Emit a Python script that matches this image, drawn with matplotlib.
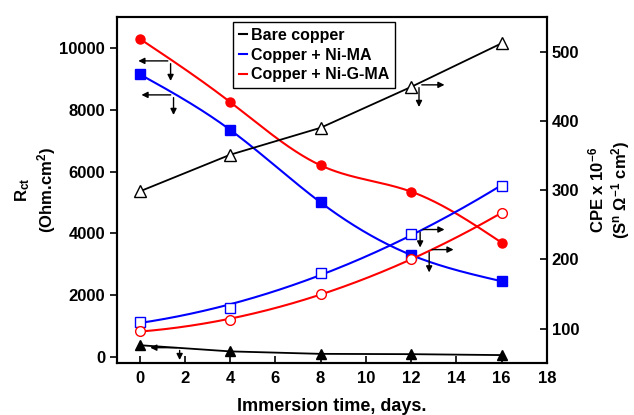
import numpy as np
import matplotlib
matplotlib.use("Agg")
import matplotlib.pyplot as plt

plt.rcParams['font.family'] = ['Liberation Sans', 'DejaVu Sans']
plt.rcParams['font.weight'] = 'bold'
plt.rcParams['mathtext.fontset'] = 'custom'
plt.rcParams['mathtext.rm'] = 'Liberation Sans:bold'
plt.rcParams['mathtext.it'] = 'Liberation Sans:bold'
plt.rcParams['mathtext.bf'] = 'Liberation Sans:bold'

# data
days = [0, 4, 8, 12, 16]
rct_bare = [380, 180, 100, 90, 60]
rct_nima = [9150, 7350, 5000, 3300, 2450]
rct_ngma = [10300, 8250, 6200, 5350, 3700]
cpe_bare = [298, 351, 390, 449, 512]
cpe_nima = [110, 130, 180, 236, 306]
cpe_ngma = [96, 113, 150, 200, 267]

labels = ["Bare copper", "Copper + Ni-MA", "Copper + Ni-G-MA"]
colors = ["black", "blue", "red"]

def smooth(x, y, deg):
    xs = np.linspace(min(x), max(x), 200)
    return xs, np.polyval(np.polyfit(x, y, deg), xs)

def spline(x, y):
    # natural cubic spline through the points
    x = np.asarray(x, float)
    y = np.asarray(y, float)
    n = len(x)
    h = np.diff(x)
    A = np.zeros((n, n))
    b = np.zeros(n)
    A[0, 0] = A[-1, -1] = 1
    for i in range(1, n - 1):
        A[i, i - 1] = h[i - 1]
        A[i, i] = 2 * (h[i - 1] + h[i])
        A[i, i + 1] = h[i]
        b[i] = 6 * ((y[i + 1] - y[i]) / h[i] - (y[i] - y[i - 1]) / h[i - 1])
    M = np.linalg.solve(A, b)
    xs = np.linspace(x[0], x[-1], 300)
    k = np.clip(np.searchsorted(x, xs) - 1, 0, n - 2)
    t0 = x[k + 1] - xs
    t1 = xs - x[k]
    hk = h[k]
    ys = (M[k] * t0 ** 3 + M[k + 1] * t1 ** 3) / (6 * hk) \
        + (y[k] / hk - M[k] * hk / 6) * t0 + (y[k + 1] / hk - M[k + 1] * hk / 6) * t1
    return xs, ys

fig = plt.figure(figsize=(6.34, 4.15), dpi=100)
ax = fig.add_axes([0.1845, 0.125, 0.678, 0.834])
ax2 = ax.twinx()

# Rct (left axis) - filled markers
ax.plot(days, rct_bare, color="black", lw=1.3, marker="^", ms=7, mfc="black")
xs, ys = spline(days, rct_nima)
ax.plot(xs, ys, color="blue", lw=1.5)
ax.plot(days, rct_nima, ls="none", marker="s", ms=6.5, color="blue")
xs, ys = spline(days, rct_ngma)
ax.plot(xs, ys, color="red", lw=1.5)
ax.plot(days, rct_ngma, ls="none", marker="o", ms=6.5, color="red")

# CPE (right axis) - open markers
ax2.plot(days, cpe_bare, color="black", lw=1.3, marker="^", ms=8, mfc="white")
xs, ys = smooth(days, cpe_nima, 2)
ax2.plot(xs, ys, color="blue", lw=1.5)
ax2.plot(days, cpe_nima, ls="none", marker="s", ms=7, color="blue", mfc="white")
xs, ys = smooth(days, cpe_ngma, 2)
ax2.plot(xs, ys, color="red", lw=1.5)
ax2.plot(days, cpe_ngma, ls="none", marker="o", ms=7, color="red", mfc="white")

ax.set_xlim(-1, 18)
ax.set_ylim(-200, 11000)
ax2.set_ylim(50, 550)
ax.set_xticks(range(0, 19, 2))
ax.set_yticks(range(0, 10001, 2000))
ax2.set_yticks([100, 200, 300, 400, 500])

ax.tick_params(axis='x', direction='in', length=5, width=1.2, labelsize=12, pad=6)
ax.tick_params(axis='y', direction='out', length=5, width=1.2, labelsize=12)
ax2.tick_params(axis='y', direction='in', length=5, width=1.2, labelsize=12)
for a in (ax, ax2):
    for s in a.spines.values():
        s.set_linewidth(1.5)

ax.set_xlabel("Immersion time, days.", fontsize=13, fontweight='bold', labelpad=8)
ax.set_ylabel("R$_{ct}$\n(Ohm.cm$^2$)", fontsize=12, fontweight='bold', labelpad=1)
ax2.set_ylabel("CPE x 10$^{-6}$\n(S$^n$ \u03a9$^{-1}$ cm$^2$)", fontsize=12,
               fontweight='bold', rotation=90, labelpad=5)

# pointer arrows
arr = dict(arrowstyle="-|>", color="black", lw=1.0, mutation_scale=9)
def pointer(a, x0, y0, xe, ye):
    a.annotate("", xy=(xe, y0), xytext=(x0, y0), arrowprops=arr)
    a.annotate("", xy=(x0, ye), xytext=(x0, y0), arrowprops=arr)

pointer(ax, 1.37, 9580, -0.18, 8840)
pointer(ax, 1.5, 8480, -0.04, 7740)
ax.annotate("", xy=(0.35, 300), xytext=(1.77, 300), arrowprops=arr)
ax.annotate("", xy=(1.77, -190), xytext=(1.77, 300), arrowprops=arr)
pointer(ax2, 12.35, 452, 13.6, 416)
pointer(ax2, 12.4, 243, 13.6, 213)
pointer(ax2, 12.8, 214, 14.0, 177)

handles = [plt.Line2D([], [], color=c, lw=1.5) for c in colors]
leg = ax.legend(handles, labels, loc="upper left", bbox_to_anchor=(0.27, 0.985),
                fontsize=11.5, handlelength=0.5, handletextpad=0.3,
                borderpad=0.35, labelspacing=0.3, fancybox=False,
                edgecolor="black", framealpha=1, borderaxespad=0)
leg.get_frame().set_linewidth(1.0)
for t in leg.get_texts():
    t.set_fontweight('bold')

plt.savefig("out.png", dpi=100)
